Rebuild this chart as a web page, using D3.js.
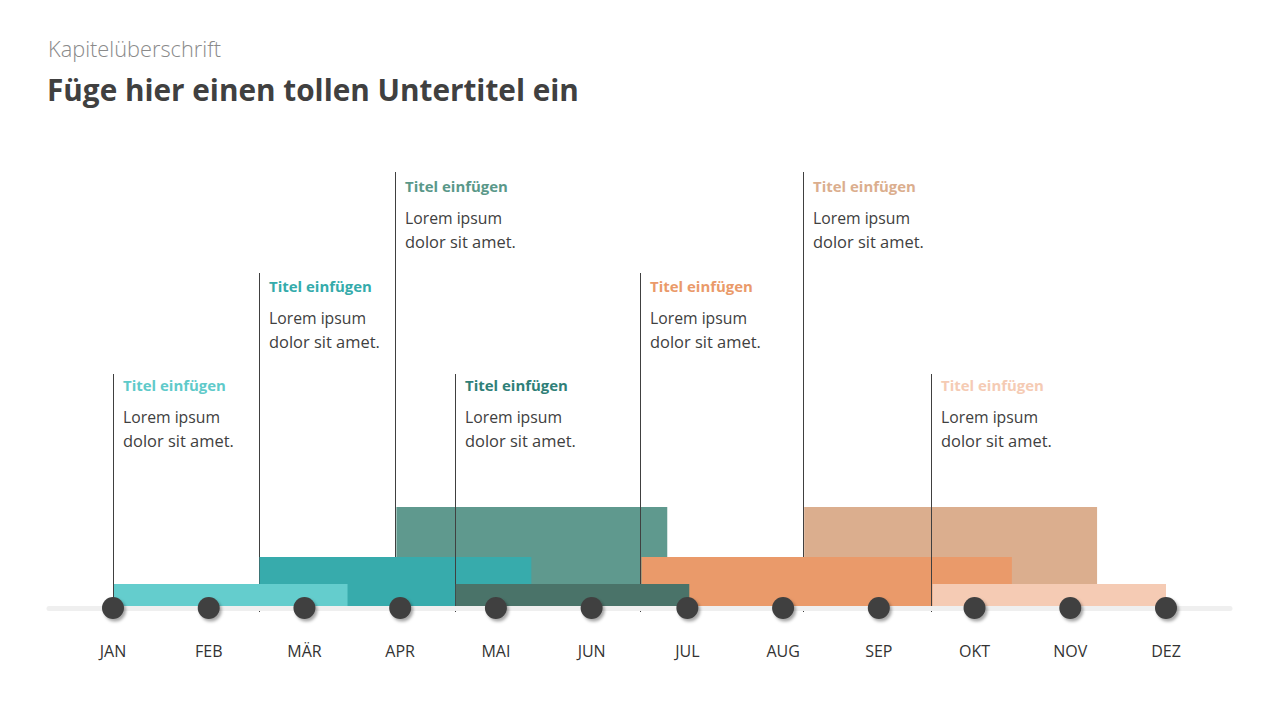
<!DOCTYPE html>
<html><head><meta charset="utf-8">
<script src="https://cdn.jsdelivr.net/npm/d3@7"></script>
<style>body{margin:0;background:#fff;} svg{display:block;}</style>
</head><body>
<svg id="c" width="1280" height="720"></svg>
<script>
const months = ["JAN","FEB","MÄR","APR","MAI","JUN","JUL","AUG","SEP","OKT","NOV","DEZ"];
// phases: start/end in months (0 = JAN), height value, label level
const phaseStart = [0.00, 1.52, 2.95, 3.57, 5.51, 7.21, 8.55];
const phaseEnd   = [2.45, 4.37, 5.79, 6.02, 9.39, 10.28, 11.00];
const phaseValue = [22, 49, 99, 22, 49, 99, 22];
const labelLevel = [1, 2, 3, 1, 2, 3, 1];
const phaseColors = ["#64cdcd","#37abac","#5f998e","#4a7369","#ea9a6a","#dbae8e","#f5cbb4"];
const titleColors = ["#5fcaca","#34abab","#5a9889","#2f7f78","#ea9a6a","#dbae8e","#f5cbb4"];
const phaseTitle = "Titel einfügen";
const phaseText = ["Lorem ipsum","dolor sit amet."];

const svg = d3.select("#c");
const font = "'Century Gothic', 'Open Sans', Lato, sans-serif";

// fit helper: scale font-size so text reaches a target width
function fit(sel, target){
  sel.each(function(){
    const fs = parseFloat(this.getAttribute("font-size"));
    const w = this.getComputedTextLength();
    if (w > 0) this.setAttribute("font-size", (fs*target/w).toFixed(2));
  });
  return sel;
}

fit(svg.append("text").attr("x",48).attr("y",57).attr("font-family",font).attr("font-size",20).attr("fill","#8a8a8a").attr("font-weight",300).text("Kapitelüberschrift"), 173);
fit(svg.append("text").attr("x",47).attr("y",101).attr("font-family",font).attr("font-size",30).attr("font-weight",700).attr("fill","#404040").text("Füge hier einen tollen Untertitel ein"), 532);

const x = d3.scaleLinear().domain([0,11]).range([113,1166]);
const y = d3.scaleLinear().domain([0,100]).range([606,506]);
const levelY = d3.scaleOrdinal().domain([1,2,3]).range([374,273,172]);
const levelTextY = d3.scaleOrdinal().domain([1,2,3]).range([374,275,175]);

const defs = svg.append("defs");
const f = defs.append("filter").attr("id","sh").attr("x","-50%").attr("y","-50%").attr("width","200%").attr("height","200%");
f.append("feDropShadow").attr("dx",2).attr("dy",2.5).attr("stdDeviation",1.8).attr("flood-color","#000").attr("flood-opacity",0.35);

const phases = phaseStart.map((s,i)=>({s, e:phaseEnd[i], v:phaseValue[i], lvl:labelLevel[i], c:phaseColors[i], tc:titleColors[i]}));
// taller phases behind; each phase = its line + its bar
const order = phases.slice().sort((a,b)=>b.v-a.v);
const pg = svg.append("g").selectAll("g").data(order).join("g");
pg.append("line")
  .attr("x1",d=>Math.round(x(d.s))+0.5).attr("x2",d=>Math.round(x(d.s))+0.5)
  .attr("y1",d=>levelY(d.lvl)).attr("y2",612)
  .attr("stroke","#404040").attr("stroke-width",1);
pg.append("rect")
  .attr("x",d=>x(d.s)+1).attr("width",d=>x(d.e)-x(d.s)-1)
  .attr("y",d=>y(d.v)).attr("height",d=>y(0)-y(d.v))
  .attr("fill",d=>d.c);

// track (over line ends)
svg.append("line").attr("x1",49).attr("x2",1230).attr("y1",608.5).attr("y2",608.5)
  .attr("stroke","#efefef").attr("stroke-width",5).attr("stroke-linecap","round");

// labels
const lg = svg.append("g").selectAll("g").data(phases).join("g")
  .attr("transform",d=>`translate(${Math.round(x(d.s))+10},${levelTextY(d.lvl)})`);
fit(lg.append("text").attr("y",17).attr("font-family",font).attr("font-size",15).attr("font-weight",700)
  .attr("fill",d=>d.tc).text(phaseTitle), 103);
fit(lg.append("text").attr("y",49).attr("font-family",font).attr("font-size",16).attr("fill","#404040").text(phaseText[0]), 97);
fit(lg.append("text").attr("y",73).attr("font-family",font).attr("font-size",16).attr("fill","#404040").text(phaseText[1]), 111);

// dots
svg.append("g").selectAll("circle").data(months).join("circle")
  .attr("cx",(d,i)=>x(i)).attr("cy",608).attr("r",11).attr("fill","#404040").attr("filter","url(#sh)");

// month labels
svg.append("g").selectAll("text").data(months).join("text")
  .attr("x",(d,i)=>x(i)).attr("y",657).attr("text-anchor","middle")
  .attr("font-family",font).attr("font-size",16).attr("fill","#333").text(d=>d);
</script>
</body></html>
